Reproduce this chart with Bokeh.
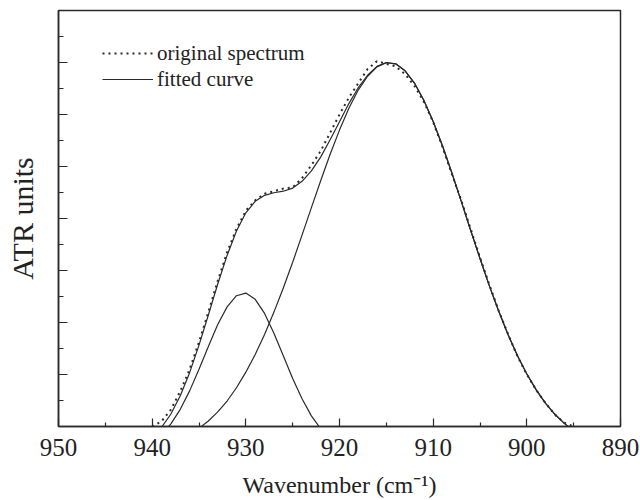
from bokeh.plotting import figure
from bokeh.models import Range1d, FixedTicker, CustomJSTickFormatter, Legend, LegendItem
from bokeh.embed import file_html
from bokeh.resources import INLINE

# Wavenumber grid for the fitted curves (cm^-1)
wn_fit = [939, 938, 937, 936, 935, 934, 933, 932, 931, 930, 929, 928, 927, 926, 925,
          924, 923, 922, 921, 920, 919, 918, 917, 916, 915, 914, 913, 912, 911, 910,
          909, 908, 907, 906, 905, 904, 903, 902, 901, 900, 899, 898, 897, 896, 895, 894]

# Total fitted curve
fit_total = [-0.03, 0.48, 1.18, 2.07, 3.13, 4.29, 5.48, 6.58, 7.52, 8.22, 8.66, 8.89, 8.99, 9.05, 9.17,
             9.43, 9.83, 10.37, 11.03, 11.72, 12.42, 13.03, 13.51, 13.85, 14.00, 13.95, 13.68, 13.21, 12.55, 11.73,
             10.79, 9.75, 8.66, 7.55, 6.46, 5.41, 4.43, 3.53, 2.72, 2.02, 1.41, 0.89, 0.47, 0.12, -0.16, -0.38]

# Large component (~914.7 cm^-1)
fit_big = [-0.72, -0.62, -0.48, -0.30, -0.07, 0.21, 0.56, 0.98, 1.49, 2.09, 2.77, 3.54, 4.40, 5.33, 6.32,
           7.36, 8.42, 9.46, 10.47, 11.40, 12.24, 12.94, 13.47, 13.83, 13.99, 13.95, 13.68, 13.21, 12.55, 11.73,
           10.79, 9.75, 8.66, 7.55, 6.46, 5.41, 4.43, 3.53, 2.72, 2.02, 1.41, 0.89, 0.47, 0.12, -0.16, -0.38]

# Small component (~930 cm^-1)
wn_small = [939, 938, 937, 936, 935, 934, 933, 932, 931, 930, 929, 928, 927, 926, 925, 924, 923, 922, 921]
fit_small = [-0.31, 0.10, 0.66, 1.37, 2.20, 3.08, 3.92, 4.60, 5.03, 5.13, 4.89, 4.35, 3.59, 2.72, 1.85,
             1.07, 0.41, -0.09, -0.44]

# Original spectrum
wn_orig = [940, 939, 938, 937, 936, 935, 934, 933, 932, 931, 930, 929, 928, 927, 926, 925, 924, 923,
           922, 921, 920, 919, 918, 917, 916, 915, 914, 913, 912, 911, 910, 909, 908, 907, 906, 905,
           904, 903, 902, 901, 900, 899, 898, 897, 896, 895]
orig = [0.0, 0.2, 0.65, 1.35, 2.2, 3.25, 4.4, 5.6, 6.7, 7.6, 8.3, 8.7, 8.95, 9.05, 9.15, 9.2, 9.55, 10.05,
        10.6, 11.3, 12.0, 12.65, 13.2, 13.75, 14.05, 13.95, 13.85, 13.55, 13.1, 12.5, 11.7, 10.75, 9.7, 8.7, 7.6, 6.5,
        5.45, 4.45, 3.55, 2.7, 2.0, 1.4, 0.9, 0.45, 0.15, 0.0]

x_major = [950, 940, 930, 920, 910, 900, 890]
x_minor = [945, 935, 925, 915, 905, 895]
y_major = [0, 2, 4, 6, 8, 10, 12, 14]
y_minor = [1, 3, 5, 7, 9, 11, 13, 15]

FONT = "Liberation Serif"
INK = "#2a2a2a"

p = figure(width=640, height=500, output_backend="svg", toolbar_location=None,
           x_range=Range1d(950, 890), y_range=Range1d(0, 16),
           min_border_left=58, min_border_right=20, min_border_top=10, min_border_bottom=74)
p.grid.visible = False
p.outline_line_color = INK
p.outline_line_width = 1.5
p.background_fill_color = "white"
p.border_fill_color = "white"

# axes
p.xaxis.ticker = FixedTicker(ticks=x_major, minor_ticks=x_minor)
p.yaxis.ticker = FixedTicker(ticks=y_major, minor_ticks=y_minor)
p.yaxis.formatter = CustomJSTickFormatter(code="return '';")
for ax in (p.xaxis[0], p.yaxis[0]):
    ax.axis_line_color = INK
    ax.axis_line_width = 1.5
    ax.major_tick_line_color = INK
    ax.minor_tick_line_color = INK
    ax.major_tick_line_width = 1.2
    ax.minor_tick_line_width = 1.2
    ax.major_tick_out = 0
    ax.minor_tick_out = 0
    ax.axis_label_text_font = FONT
    ax.axis_label_text_font_style = "normal"
    ax.axis_label_text_color = "#222222"
    ax.major_label_text_font = FONT
    ax.major_label_text_color = "#222222"

p.xaxis.major_tick_in = 8
p.xaxis.minor_tick_in = 4
p.yaxis.major_tick_in = 9
p.yaxis.minor_tick_in = 5
p.xaxis.major_label_text_font_size = "25px"
p.xaxis.axis_label = "Wavenumber (cm\u207b\u00b9)"
p.xaxis.axis_label_text_font_size = "24px"
p.xaxis.major_label_standoff = 12
p.xaxis.axis_label_standoff = 13
p.yaxis.axis_label = "ATR units"
p.yaxis.axis_label_text_font_size = "30px"
p.yaxis.major_label_standoff = 0
p.yaxis.axis_label_standoff = 20

# curves
r_orig = p.line(wn_orig, orig, line_color=INK, line_width=2, line_dash="2 4")
r_fit = p.line(wn_fit, fit_total, line_color=INK, line_width=1.2)
p.line(wn_fit, fit_big, line_color=INK, line_width=1.2)
p.line(wn_small, fit_small, line_color=INK, line_width=1.2)

legend = Legend(items=[LegendItem(label="original spectrum", renderers=[r_orig]),
                       LegendItem(label="fitted curve", renderers=[r_fit])],
                location=(44, 334), border_line_color=None, background_fill_alpha=0,
                label_text_font=FONT, label_text_font_size="21px", label_text_color="#222222",
                glyph_width=51, glyph_height=26, label_height=26, label_standoff=4,
                spacing=0, padding=0, margin=0)
p.add_layout(legend)

open("out.html", "w").write(file_html(p, INLINE))
